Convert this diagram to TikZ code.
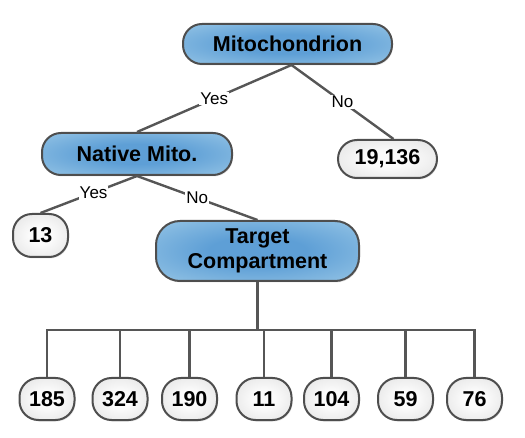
\documentclass[tikz,border=0pt]{standalone}
\usepackage{fontspec}
\setmainfont{Liberation Sans}
\usetikzlibrary{shadows}
\definecolor{edgeGray}{HTML}{565656}
\definecolor{boxBorder}{HTML}{4E4E4E}
\definecolor{blueCenter}{HTML}{5E9FD6}
\definecolor{blueEdge}{HTML}{C2E3F2}
\definecolor{grayCenter}{HTML}{FBFBFB}
\definecolor{grayEdge}{HTML}{D0D0D0}
\pgfdeclareradialshading{blueGlow}{\pgfpoint{0bp}{0bp}}{color(0bp)=(blueCenter); color(12bp)=(blueCenter); color(56bp)=(blueEdge); color(100bp)=(blueEdge)}
\pgfdeclareradialshading{grayGlow}{\pgfpoint{0bp}{0bp}}{color(0bp)=(grayCenter); color(10bp)=(grayCenter); color(54bp)=(grayEdge); color(100bp)=(grayEdge)}
\begin{document}
\begin{tikzpicture}
[x=1pt,y=-1pt,%
  connector/.style={draw=edgeGray,line width=2.4pt},%
  edgeLabel/.style={fill=white,inner sep=1pt,font=\fontsize{17}{19}\selectfont},%
  boxBase/.style={draw=boxBorder,line width=2pt,inner sep=2pt,align=center,%
    font=\fontsize{21.5}{25}\selectfont\bfseries,%
    drop shadow={shadow xshift=1pt,shadow yshift=-1.5pt,opacity=.2}},%
  questionBox/.style={boxBase,shading=blueGlow,rounded corners=19pt},%
  countBox/.style={boxBase,shading=grayGlow,rounded corners=19pt,%
    minimum width=55pt,minimum height=42pt}]
\useasboundingbox (0,0) rectangle (525,438);
%% question nodes
\node (mito) at (287.5,44) [questionBox,minimum width=209pt,minimum height=40pt] {Mitochondrion};
\node (native) at (137,154) [questionBox,minimum width=190pt,minimum height=42pt] {Native Mito.};
\node (target) at (257.5,251) [questionBox,rounded corners=24pt,minimum width=203pt,minimum height=60pt] {Target\\Compartment};
%% count nodes
\node (n19136) at (387.5,159) [countBox,minimum width=99pt,minimum height=38pt] {19,136};
\node (n13) at (40.5,235.5) [countBox,minimum height=43pt] {13};
\foreach \nodename/\x/\val in {c1/47/185, c2/120/324, c3/189.5/190, c4/264/11,
  c5/331.5/104, c6/405.5/59, c7/474.5/76}
{
  \node (\nodename) at (\x,399) [countBox] {\val};
}
%% yes / no edges
\coordinate (mitoFoot) at ([xshift=4pt]mito.south);
\draw[connector] (mitoFoot) -- node[edgeLabel] {Yes} (native.north);
\draw[connector] (mitoFoot) -- node[edgeLabel] {No} ([xshift=6pt]n19136.north);
\draw[connector] (native.south) -- node[edgeLabel,pos=0.45] {Yes} (n13.north);
\draw[connector] (native.south) -- node[edgeLabel] {No} (target.north);
%% compartment bar
\foreach \nodename in {c1,c2,c3,c4,c5,c6,c7}
{
  \draw[connector] (target.south) -- ++(0,48) -| (\nodename.north);
}
\end{tikzpicture}
\end{document}
